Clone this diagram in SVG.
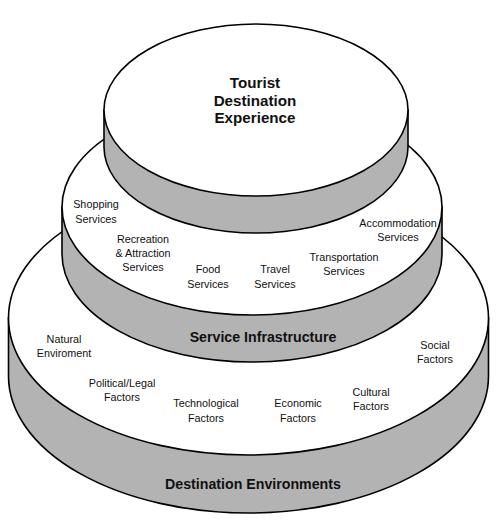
<svg xmlns="http://www.w3.org/2000/svg" width="504" height="525" viewBox="0 0 504 525">
<style>
.side{fill:#b3b3b3;stroke:#000;stroke-width:1.6}
.top{fill:#fff;stroke:#000;stroke-width:1.6}
.lbl{font-family:"Liberation Sans",Arial,sans-serif;font-size:10.8px;fill:#111;text-anchor:middle}
.ttl{font-family:"Liberation Sans",Arial,sans-serif;font-weight:bold;font-size:14.2px;fill:#111;text-anchor:middle}
.big{font-family:"Liberation Sans",Arial,sans-serif;font-weight:bold;font-size:15.2px;fill:#111;text-anchor:middle}
</style>
<rect width="504" height="525" fill="#fff"/>
<g id="destination-environments">
<path class="side" d="M8.5,318 L8.5,376 A240 137 0 0 0 488.5,376 L488.5,318 Z"/>
<ellipse class="top" cx="248.5" cy="318" rx="240" ry="137"/>
<text class="ttl" x="253" y="489">Destination Environments</text>
<text class="lbl" x="64" y="343">Natural</text>
<text class="lbl" x="64" y="357">Enviroment</text>
<text class="lbl" x="122" y="387">Political/Legal</text>
<text class="lbl" x="122" y="401">Factors</text>
<text class="lbl" x="206" y="407">Technological</text>
<text class="lbl" x="206" y="422">Factors</text>
<text class="lbl" x="298" y="407">Economic</text>
<text class="lbl" x="298" y="422">Factors</text>
<text class="lbl" x="371" y="396">Cultural</text>
<text class="lbl" x="371" y="410">Factors</text>
<text class="lbl" x="435" y="349">Social</text>
<text class="lbl" x="435" y="363">Factors</text>
</g>
<g id="service-infrastructure">
<path class="side" d="M62,207 L62,254 A190 108 0 0 0 442,254 L442,207 Z"/>
<ellipse class="top" cx="252" cy="207" rx="190" ry="108"/>
<text class="ttl" x="263" y="342">Service Infrastructure</text>
<text class="lbl" x="96" y="208">Shopping</text>
<text class="lbl" x="96" y="223">Services</text>
<text class="lbl" x="143" y="243">Recreation</text>
<text class="lbl" x="143" y="257">&amp; Attraction</text>
<text class="lbl" x="143" y="271">Services</text>
<text class="lbl" x="208" y="273">Food</text>
<text class="lbl" x="208" y="288">Services</text>
<text class="lbl" x="275" y="273">Travel</text>
<text class="lbl" x="275" y="288">Services</text>
<text class="lbl" x="344" y="261">Transportation</text>
<text class="lbl" x="344" y="275">Services</text>
<text class="lbl" x="398" y="227">Accommodation</text>
<text class="lbl" x="398" y="241">Services</text>
</g>
<g id="tourist-destination-experience">
<path class="side" d="M104,110 L104,147 A152 86 0 0 0 408,147 L408,110 Z"/>
<ellipse class="top" cx="256" cy="110" rx="152" ry="86"/>
<text class="big" x="255" y="88">Tourist</text>
<text class="big" x="255" y="106">Destination</text>
<text class="big" x="255" y="123">Experience</text>
</g>
<g id="connectors"/>
</svg>
